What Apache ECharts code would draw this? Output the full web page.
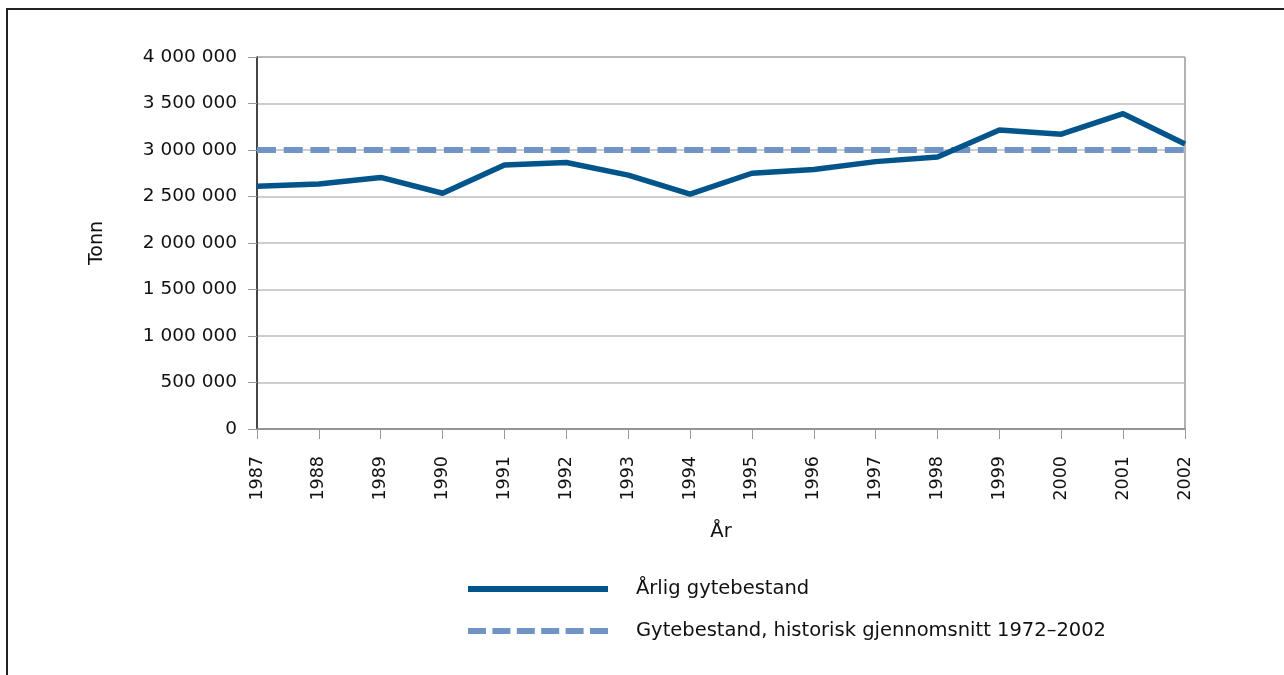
<!DOCTYPE html>
<html>
<head>
<meta charset="utf-8">
<script src="https://cdn.jsdelivr.net/npm/echarts@6/dist/echarts.min.js"></script>
<style>
  html, body { margin: 0; padding: 0; background: #fff; }
  #chart { width: 1284px; height: 675px; }
</style>
</head>
<body>
<div id="chart"></div>
<script>
// years on the x axis
var years = ['1987', '1988', '1989', '1990', '1991', '1992', '1993', '1994',
             '1995', '1996', '1997', '1998', '1999', '2000', '2001', '2002'];
// Årlig gytebestand (tonn)
var arlig = [2610000, 2635000, 2705000, 2535000, 2840000, 2865000, 2730000, 2525000,
             2750000, 2790000, 2875000, 2925000, 3215000, 3170000, 3390000, 3065000];
// historisk gjennomsnitt 1972–2002
var snitt = [3000000, 3000000, 3000000, 3000000, 3000000, 3000000, 3000000, 3000000,
             3000000, 3000000, 3000000, 3000000, 3000000, 3000000, 3000000, 3000000];
var names = ['Årlig gytebestand', 'Gytebestand, historisk gjennomsnitt 1972–2002'];

var font = 'DejaVu Sans';
var myChart = echarts.init(document.getElementById('chart'));

function fmt(v) {
  return String(v).replace(/\B(?=(\d{3})+(?!\d))/g, ' ');
}

// legend icons: solid bar and six short dashes
var solidIcon = 'path://M0,0 H140 V6 H0 Z';
var dashIcon = 'path://M0,0 H18 V6 H0 Z M24.4,0 H42.4 V6 H24.4 Z M48.8,0 H66.8 V6 H48.8 Z' +
               ' M73.2,0 H91.2 V6 H73.2 Z M97.6,0 H115.6 V6 H97.6 Z M122,0 H140 V6 H122 Z';

var option = {
  animation: false,
  textStyle: { fontFamily: font },
  graphic: [{
    type: 'polyline',
    shape: { points: [[7, 675], [7, 9], [1284, 9]] },
    style: { stroke: '#222', lineWidth: 2, fill: null }
  }],
  grid: {
    left: 257, right: 99, top: 57, bottom: 246,
    show: true, borderColor: '#666', borderWidth: 1
  },
  legend: {
    orient: 'vertical',
    left: 463,
    top: 574,
    itemWidth: 140,
    itemHeight: 6,
    itemGap: 22,
    textStyle: { fontFamily: font, fontSize: 19.5, color: '#111', padding: [0, 0, 0, 23] },
    data: [
      { name: names[0], icon: solidIcon },
      { name: names[1], icon: dashIcon }
    ]
  },
  xAxis: {
    type: 'category',
    data: years,
    boundaryGap: false,
    name: 'År',
    nameLocation: 'middle',
    nameGap: 93,
    nameTextStyle: { fontSize: 19.5, color: '#111' },
    axisLine: { lineStyle: { color: '#888', width: 1.5 } },
    axisTick: { show: true, length: 10, lineStyle: { color: '#999' } },
    axisLabel: { rotate: 90, margin: 27, fontSize: 17.5, color: '#111' },
    splitLine: { show: false }
  },
  yAxis: {
    type: 'value',
    min: 0,
    max: 4000000,
    interval: 500000,
    name: 'Tonn',
    nameLocation: 'middle',
    nameGap: 150,
    nameTextStyle: { fontSize: 19, color: '#111' },
    axisLine: { show: true, lineStyle: { color: '#222', width: 1.5 } },
    axisTick: { show: true, length: 9, lineStyle: { color: '#999' } },
    axisLabel: { margin: 20, fontSize: 18.5, color: '#111', formatter: fmt },
    splitLine: { lineStyle: { color: '#bdbdbd', width: 1.5 } }
  },
  series: [
    {
      name: names[0],
      type: 'line',
      data: arlig,
      symbol: 'none',
      z: 3,
      lineStyle: { color: '#02558b', width: 5.5 },
      itemStyle: { color: '#02558b' }
    },
    {
      name: names[1],
      type: 'line',
      data: snitt,
      symbol: 'none',
      z: 2,
      lineStyle: { color: '#7094c4', width: 6, type: [19, 7.7] },
      itemStyle: { color: '#7094c4' }
    }
  ]
};

myChart.setOption(option);
</script>
</body>
</html>
